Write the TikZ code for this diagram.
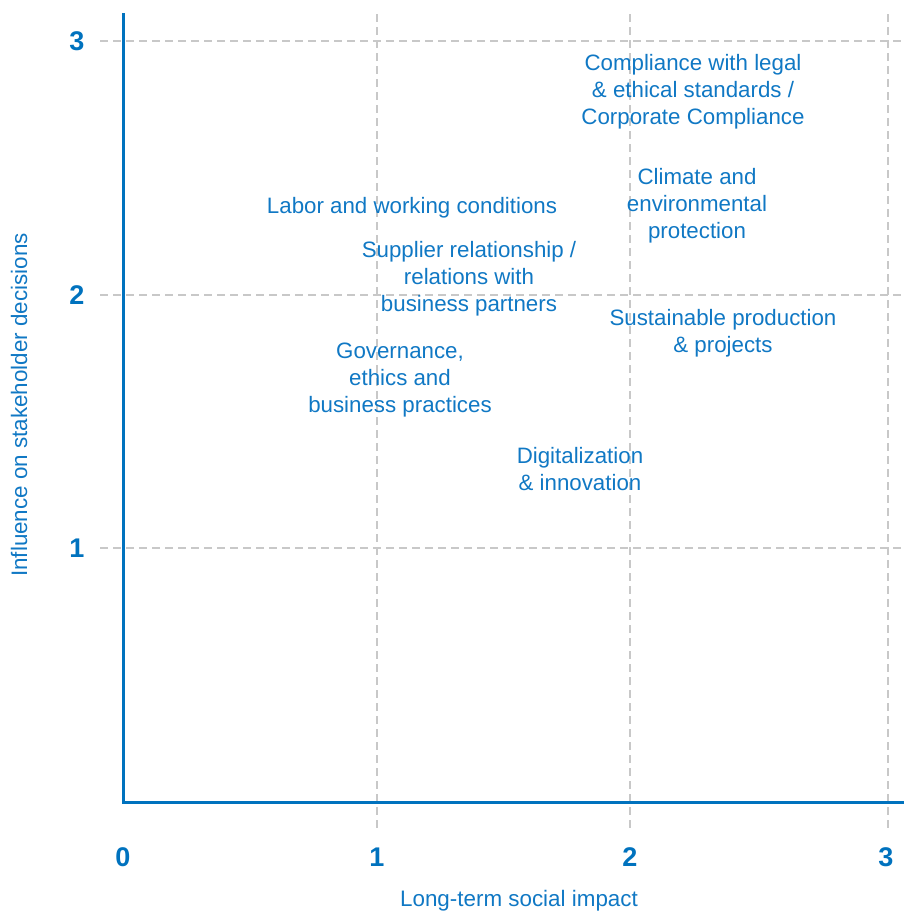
\documentclass[tikz,border=0pt]{standalone}
\usepackage{fontspec}
\setmainfont{Liberation Sans}
\definecolor{axisblue}{RGB}{0,114,190}
\definecolor{txtblue}{RGB}{16,120,196}
\definecolor{gridgray}{RGB}{200,200,200}
\tikzset{
  gridline/.style={draw=gridgray, line width=1.5pt, dash pattern=on 8pt off 5pt},
  axisline/.style={draw=axisblue, line width=3pt},
  ticklbl/.style={text=axisblue, font=\fontsize{27}{30}\selectfont\bfseries, inner sep=0pt},
  topic/.style={text=txtblue, font=\fontsize{22.3}{27}\selectfont, align=center, inner sep=0pt},
  axtitle/.style={text=txtblue, font=\fontsize{22.4}{27}\selectfont, inner sep=0pt}
}
\begin{document}
\begin{tikzpicture}[x=1pt,y=-1pt]
\useasboundingbox (0,0) rectangle (904,914);
% grid
\foreach \gx in {377,630,888} \draw[gridline] (\gx,14) -- (\gx,830);
\foreach \gy in {41,295,548} \draw[gridline] (100,\gy) -- (904,\gy);
% axes
\coordinate (ytop) at (123,14);
\coordinate (orig) at (123,802);
\coordinate (xend) at (904,802);
\draw[axisline, line cap=rect] (ytop) -- (orig) -- (xend);
% tick labels
\node[ticklbl] (y3) at (77,41) {3};
\node[ticklbl] (y2) at (77,295) {2};
\node[ticklbl] (y1) at (77,548) {1};
\node[ticklbl] (x0) at (123,857) {0};
\node[ticklbl] (x1) at (377,857) {1};
\node[ticklbl] (x2) at (630,857) {2};
\node[ticklbl] (x3) at (886,857) {3};
% axis titles
\node[axtitle, rotate=90] (ytitle) at (19,405) {Influence on stakeholder decisions};
\node[axtitle] (xtitle) at (519,901) {Long-term social impact};
% topics
\node[topic] (comp) at (693,92) {Compliance with legal\\ \& ethical standards /\\ Corporate Compliance};
\node[topic] (clim) at (697,206) {Climate and\\ environmental\\ protection};
\node[topic] (labor) at (412,208) {Labor and working conditions};
\node[topic] (supp) at (469,279) {Supplier relationship /\\ relations with\\ business partners};
\node[topic] (sust) at (723,333) {Sustainable production\\ \& projects};
\node[topic] (gov) at (400,380) {Governance,\\ ethics and\\ business practices};
\node[topic] (digi) at (580,469) {Digitalization\\ \& innovation};
\end{tikzpicture}
\end{document}
